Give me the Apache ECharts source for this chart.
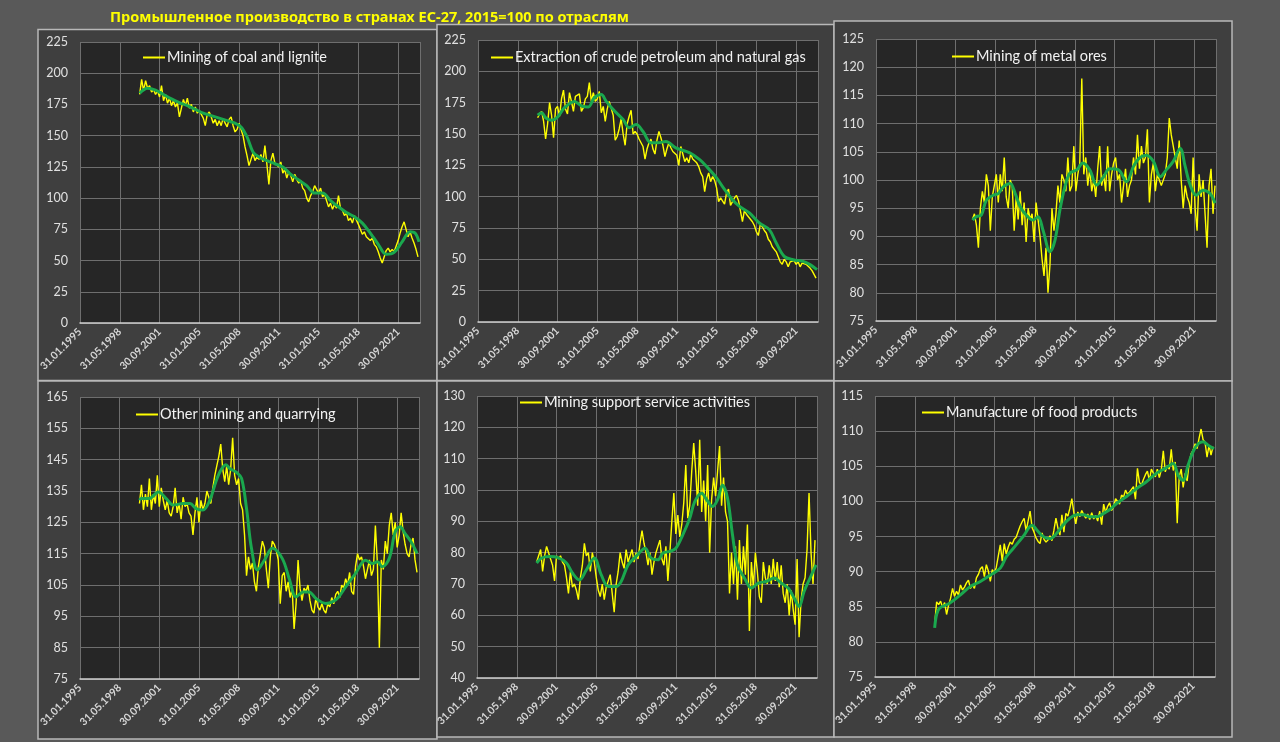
<!DOCTYPE html>
<html>
<head>
<meta charset="utf-8">
<script src="https://cdn.jsdelivr.net/npm/echarts@6/dist/echarts.min.js"></script>
<style>
  html, body { margin: 0; padding: 0; background: #595959; }
  #chartDiv { width: 1280px; height: 742px; }
</style>
</head>
<body>
<div id="chartDiv"></div>
<script>
// x axis: month index, 0 = Jan 1995
var tickLabels = ['31.01.1995', '31.05.1998', '30.09.2001', '31.01.2005', '31.05.2008',
                  '30.09.2011', '31.01.2015', '31.05.2018', '30.09.2021'];

// monthly index (yellow) read every 2 months, starting month given
var coalStart = 60;
var coal = [183,195,186,194,188,190,185,187,183,186,
  181,190,178,183,176,180,174,178,173,176,
  165,172,179,174,180,172,175,169,173,168,
  170,167,164,158,167,169,165,160,163,158,
  162,158,164,160,157,163,165,158,153,155,
  160,161,150,141,134,126,131,136,130,133,
  131,135,129,142,127,111,130,136,128,127,
  125,129,120,123,116,121,118,113,119,115,
  112,114,108,106,100,97,102,105,110,107,
  104,108,101,103,98,93,96,91,95,92,
  102,92,90,86,88,82,84,80,86,87,
  79,75,71,73,69,70,66,68,63,61,
  57,52,48,53,58,60,57,59,57,56,
  66,72,77,81,75,69,73,68,64,59,
  53];
var coalTrend = [[60,184],[68,188],[76,186.5],[84,183],[92,179.5],[100,176.5],[108,174],[116,171],
  [124,168],[132,166],[140,164],[148,162],[156,160],[162,157],[168,149],[174,137],[180,133],[188,130],
  [196,127.5],[204,125],[212,119],[220,114.5],[228,110],[236,104],[244,104],[252,98],[260,93],
  [268,88.5],[276,85],[284,80],[292,72],[300,63],[308,55],[316,56.5],[324,65],[332,73],[337,72],[341,65]];

var oilStart = 60;
var oil = [163,166,168,160,146,158,175,165,147,170,
  172,164,178,185,170,166,183,176,168,180,
  179,182,168,171,178,180,191,176,183,176,
  178,184,167,172,160,170,176,177,165,145,
  148,154,162,150,141,158,164,169,150,152,
  150,146,145,140,130,138,143,146,138,134,
  145,152,147,141,132,138,143,139,136,137,
  133,125,140,134,128,131,127,134,130,129,
  127,124,119,116,104,114,119,112,116,113,
  107,96,99,98,94,103,106,93,96,99,
  101,97,96,80,89,86,84,82,80,77,
  72,69,78,76,73,71,66,64,60,59,
  56,52,48,46,50,48,44,48,47,49,
  46,48,44,47,48,46,45,43,41,38,
  35];
var oilTrend = [[60,165],[64,167],[68,163],[74,161],[80,163.5],[87,171],[97,176],[104,172.5],[111,171.5],
  [117,179],[124,181.5],[129,176],[136,169.5],[146,161.5],[152,155],[159,157.5],[166,152],[174,143],
  [181,143],[189,144],[199,139],[213,135],[223,129.5],[230,124],[240,115],[246,108],[256,97.6],
  [263,92.3],[273,87],[283,79],[293,73.7],[300,63],[308,52.4],[317,49.7],[327,48.4],[334,45.8],[341,41.8]];

var metalStart = 97;
var metal = [93,94,92,88,95,98,96,101,99,91,
  97,99,101,96,101,98,104,97,95,100,
  99,91,97,93,98,92,96,89,95,93,
  94,89,96,93,90,86,83,88,80,85,
  95,91,94,99,96,101,100,98,104,98,
  99,106,98,101,103,118,101,104,99,102,
  98,100,97,102,106,99,101,98,106,98,
  101,103,104,100,101,96,99,102,97,99,
  100,104,101,108,102,106,103,104,109,96,
  101,103,98,101,100,99,99,101,104,111,
  108,106,104,102,107,100,95,99,97,96,
  94,104,95,91,101,97,100,94,88,99,
  102,94,99];
var metalTrend = [[97,92.9],[101,93.5],[106,93.8],[111,96.4],[118,97.3],[123,97.6],[128,98.8],[135,99.4],
  [140,97.6],[145,95.3],[151,93.8],[158,92.9],[163,93.5],[168,91.1],[175,87.3],[180,89.3],[185,94.7],
  [190,98.8],[195,101.2],[202,101.8],[208,103],[215,101.8],[222,99.1],[229,100.6],[235,102],[244,101.8],
  [252,99.7],[259,102.4],[265,103.9],[272,104.4],[279,103.3],[286,100.6],[292,101.8],[299,103.3],
  [306,105.6],[311,102.4],[316,99.1],[322,97.3],[329,98.2],[336,97.6],[341,95.9]];

var otherStart = 60;
var other = [131,137,129,134,130,139,129,134,131,140,
  130,136,132,129,132,128,127,130,136,128,
  131,126,133,130,131,128,127,121,128,133,
  125,132,129,131,135,133,131,136,140,143,
  146,150,142,138,143,137,142,152,140,137,
  139,131,129,121,108,114,110,112,106,103,
  111,115,119,117,110,104,114,119,118,116,
  113,99,108,109,103,106,101,104,91,99,
  113,104,100,104,103,105,100,97,96,101,
  98,97,99,97,96,99,98,101,99,102,
  103,101,105,104,107,105,109,103,102,111,
  115,113,114,111,107,110,113,108,110,124,
  112,85,113,110,119,115,124,128,121,125,
  117,121,128,122,118,115,114,118,120,113,
  109];
var otherTrend = [[60,132.1],[62,132.6],[70,132.6],[79,134.7],[87,132.6],[94,130.5],[104,131],[111,131],
  [117,129.4],[124,128.9],[131,132.1],[137,137.9],[142,141.6],[147,143.4],[151,142.2],[158,140.9],
  [163,139],[168,129.4],[173,116.7],[179,109.8],[186,112.9],[194,116.7],[204,113.5],[211,107.1],
  [218,101.2],[225,102.8],[231,102.8],[238,100.7],[248,99.1],[255,99.7],[261,101.2],[268,104.4],
  [278,108.7],[288,112.9],[295,111.9],[300,112.4],[305,110.8],[312,113.5],[318,122],[323,123.6],
  [328,121.4],[334,118.8],[340,115.1]];

var supportStart = 60;
var support = [77,79,81,74,79,82,80,78,76,71,
  79,78,79,77,76,72,67,74,69,70,
  68,65,72,76,83,79,80,74,80,77,
  72,68,66,70,65,69,71,73,67,61,
  70,74,80,77,75,81,77,79,81,77,
  80,78,83,87,83,80,76,80,73,77,
  80,82,84,78,76,82,71,80,90,99,
  86,92,85,89,96,108,91,95,106,115,
  106,95,116,93,103,90,108,80,97,104,
  98,106,114,95,104,93,90,67,80,70,
  82,65,84,70,82,73,89,55,77,69,
  80,74,66,64,77,72,70,76,70,78,
  71,77,69,76,67,64,70,60,68,62,
  57,78,53,65,70,72,81,99,80,70,
  84];
var supportTrend = [[60,76.7],[65,78.3],[73,78.8],[81,78.5],[90,76.7],[96,73.5],[103,71.3],[110,74.5],
  [118,78.3],[125,72.9],[132,69.2],[140,69.2],[145,70.8],[152,76.1],[160,78.8],[169,81.4],[175,78.3],
  [182,77.7],[187,79.9],[194,80.4],[200,81.4],[207,85.7],[214,91],[219,96.3],[226,99],[231,96.9],
  [237,94.7],[242,96.9],[247,101.6],[252,97.4],[257,85.7],[262,76.1],[269,71.9],[276,68.7],[283,70.3],
  [291,70.8],[299,71.9],[306,70.3],[313,68.7],[319,65.5],[324,62.8],[329,67.6],[335,71.9],[341,76.1]];

var foodStart = 60;
var food = [82.5,85.7,85.3,85.8,84.9,85.6,83.9,85.2,86.2,87.6,
  86.5,87.2,86.7,88.1,87.4,87.8,88.4,88.8,87.6,88.1,
  87.6,89.1,89.6,90.4,90.7,89.3,91.0,90.1,88.6,90.3,
  89.8,90.6,92.2,93.8,91.5,94.0,92.5,93.5,94.2,93.9,
  94.6,94.9,95.7,96.5,97.1,97.6,95.8,97.2,98.6,96.3,
  95.6,94.8,94.3,94.0,95.5,94.6,94.2,94.5,95.1,94.4,
  95.9,97.6,96.2,95.2,98.1,95.6,98.3,97.9,99.0,100.4,
  98.4,96.8,98.5,97.8,98.7,98.1,97.6,98.2,97.4,98.4,
  97.5,98.0,97.2,98.6,96.7,99.6,98.4,99.3,99.8,98.7,
  99.2,100.4,100.0,99.6,100.9,100.6,101.6,101.0,101.3,101.7,
  102.1,100.3,104.7,102.7,102.3,103.1,103.8,104.3,103.0,104.6,
  104.0,103.5,104.6,103.4,104.5,107.2,104.2,105.1,104.6,107.4,
  104.4,105.6,96.9,103.5,104.6,102.0,104.0,102.9,105.5,106.8,
  107.3,108.2,107.5,109.0,110.3,108.8,108.4,106.3,108.0,106.6,
  107.8];
var foodTrend = [[60,82],[62,83.9],[65,84.8],[75,85.5],[86,86.7],[96,87.9],[106,88.6],[116,89.5],[126,90.5],
  [132,92.1],[139,93.3],[149,95],[158,96.6],[163,95.9],[169,95],[176,94.7],[183,95.5],[189,96.6],
  [196,97.6],[203,98.1],[210,98.1],[216,97.8],[223,97.8],[230,98.3],[236,98.8],[243,99.7],[253,100.7],
  [263,101.8],[273,102.8],[283,104],[292,104.7],[300,105.4],[305,103.7],[310,103],[315,105.2],
  [320,107.1],[325,108.2],[330,108.5],[335,108],[341,107.5]];

var panels = [
  {name: 'Mining of coal and lignite', start: coalStart, values: coal, trend: coalTrend,
   min: 0, max: 225, step: 25,
   grid: {left: 80, top: 42, width: 340, height: 281},
   frame: [38, 29.5, 399, 351], legend: {left: 138, top: 45}},
  {name: 'Extraction of crude petroleum and natural gas', start: oilStart, values: oil, trend: oilTrend,
   min: 0, max: 225, step: 25,
   grid: {left: 478, top: 40, width: 340, height: 282},
   frame: [437, 24.5, 397, 356], legend: {left: 486, top: 45}},
  {name: 'Mining of metal ores', start: metalStart, values: metal, trend: metalTrend,
   min: 75, max: 125, step: 5,
   grid: {left: 876, top: 39, width: 340, height: 282},
   frame: [834, 21, 398, 360], legend: {left: 947, top: 44}},
  {name: 'Other mining and quarrying', start: otherStart, values: other, trend: otherTrend,
   min: 75, max: 165, step: 10,
   grid: {left: 80, top: 397, width: 339, height: 282},
   frame: [38, 381, 399, 358], legend: {left: 131, top: 402}},
  {name: 'Mining support service activities', start: supportStart, values: support, trend: supportTrend,
   min: 40, max: 130, step: 10,
   grid: {left: 477, top: 396, width: 340, height: 282},
   frame: [437, 381, 397, 356], legend: {left: 515, top: 390}},
  {name: 'Manufacture of food products', start: foodStart, values: food, trend: foodTrend,
   min: 75, max: 115, step: 5,
   grid: {left: 875, top: 396, width: 340, height: 281},
   frame: [834, 381, 398, 356], legend: {left: 917, top: 400}}
];

var myChart = echarts.init(document.getElementById('chartDiv'));

var grids = [], xAxes = [], yAxes = [], series = [], legends = [], elements = [];

panels.forEach(function (p, i) {
  elements.push({
    type: 'rect', z: -10,
    shape: {x: p.frame[0], y: p.frame[1], width: p.frame[2], height: p.frame[3]},
    style: {fill: '#3f3f3f', stroke: '#b8b8b8', lineWidth: 1.5}
  });
  grids.push({
    left: p.grid.left, top: p.grid.top, width: p.grid.width, height: p.grid.height,
    show: true, backgroundColor: '#262626', borderWidth: 0
  });
  xAxes.push({
    gridIndex: i,
    type: 'value',
    min: 0, max: 342, interval: 40,
    axisLine: {show: true, onZero: false, lineStyle: {color: '#d0d0d0', width: 1.5}},
    axisTick: {show: false},
    splitLine: {show: true, lineStyle: {color: '#6e6e6e', width: 1}},
    axisLabel: {
      rotate: 45, margin: 7, color: '#d6d6d6', fontSize: 10.5, fontWeight: 'bold',
      fontFamily: 'Lato', showMaxLabel: false, hideOverlap: false,
      formatter: function (v) { return v % 40 === 0 ? tickLabels[v / 40] : ''; }
    }
  });
  yAxes.push({
    gridIndex: i,
    type: 'value',
    min: p.min, max: p.max, interval: p.step,
    axisLine: {show: false},
    axisTick: {show: false},
    splitLine: {show: true, lineStyle: {color: '#6e6e6e', width: 1}},
    axisLabel: {margin: 12, color: '#e0e0e0', fontSize: 12.5, fontFamily: 'Lato'}
  });
  series.push({
    name: p.name,
    type: 'line',
    xAxisIndex: i, yAxisIndex: i,
    data: p.values.map(function (v, k) { return [p.start + 2 * k, v]; }),
    showSymbol: false,
    lineStyle: {color: '#ffff00', width: 1.4},
    itemStyle: {color: '#ffff00'},
    z: 2
  });
  series.push({
    name: 'trend' + i,
    type: 'line',
    xAxisIndex: i, yAxisIndex: i,
    data: p.trend,
    smooth: 0.35,
    showSymbol: false,
    lineStyle: {color: '#1aa84e', width: 3},
    itemStyle: {color: '#1aa84e'},
    z: 3
  });
  legends.push({
    data: [p.name],
    left: p.legend.left, top: p.legend.top,
    icon: 'rect', itemWidth: 22, itemHeight: 2,
    selectedMode: false,
    textStyle: {color: '#f2f2f2', fontSize: 14.5, fontFamily: 'Lato', padding: [0, 0, 0, -3]}
  });
});

option = {
  backgroundColor: '#595959',
  animation: false,
  title: {
    text: 'Промышленное производство в странах ЕС-27, 2015=100 по отраслям',
    left: 105, top: 5,
    textStyle: {color: '#ffff00', fontSize: 14.5, fontWeight: 'bold', fontFamily: 'Noto Sans'}
  },
  graphic: {elements: elements},
  legend: legends,
  grid: grids,
  xAxis: xAxes,
  yAxis: yAxes,
  series: series
};
myChart.setOption(option);
</script>
</body>
</html>
